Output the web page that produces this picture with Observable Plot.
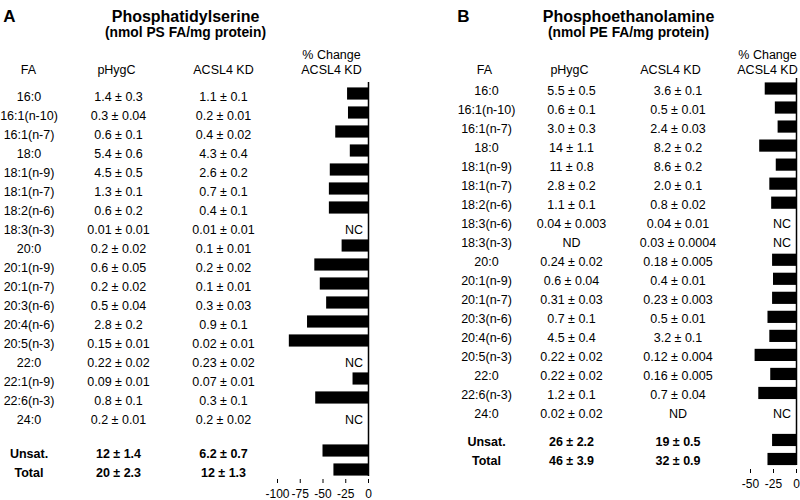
<!DOCTYPE html>
<html><head><meta charset="utf-8">
<script src="https://cdn.jsdelivr.net/npm/d3@7"></script>
<script src="https://cdn.jsdelivr.net/npm/@observablehq/plot@0.6"></script>
<style>
html,body{margin:0;padding:0;background:#fff;}
#chart{position:relative;width:800px;height:500px;overflow:hidden;background:#fff;}
#chart svg{position:absolute;top:0;}
</style></head><body><div id="chart"></div>
<script>
// ---------- Panel A: Phosphatidylserine ----------
const faA = ["16:0","16:1(n-10)","16:1(n-7)","18:0","18:1(n-9)","18:1(n-7)","18:2(n-6)","18:3(n-3)","20:0","20:1(n-9)","20:1(n-7)","20:3(n-6)","20:4(n-6)","20:5(n-3)","22:0","22:1(n-9)","22:6(n-3)","24:0","Unsat.","Total"];
const ctrlA = ["1.4 ± 0.3","0.3 ± 0.04","0.6 ± 0.1","5.4 ± 0.6","4.5 ± 0.5","1.3 ± 0.1","0.6 ± 0.2","0.01 ± 0.01","0.2 ± 0.02","0.6 ± 0.05","0.2 ± 0.02","0.5 ± 0.04","2.8 ± 0.2","0.15 ± 0.01","0.22 ± 0.02","0.09 ± 0.01","0.8 ± 0.1","0.2 ± 0.01","12 ± 1.4","20 ± 2.3"];
const kdA = ["1.1 ± 0.1","0.2 ± 0.01","0.4 ± 0.02","4.3 ± 0.4","2.6 ± 0.2","0.7 ± 0.1","0.4 ± 0.1","0.01 ± 0.01","0.1 ± 0.01","0.2 ± 0.02","0.1 ± 0.01","0.3 ± 0.03","0.9 ± 0.1","0.02 ± 0.01","0.23 ± 0.02","0.07 ± 0.01","0.3 ± 0.1","0.2 ± 0.02","6.2 ± 0.7","12 ± 1.3"];
const changeA = [-23,-22,-36,-20,-42,-43,-43,null,-29,-59,-53,-46,-67,-87,null,-17,-58,null,-50,-38];
const ticksA = [-100,-75,-50,-25,0];

// ---------- Panel B: Phosphoethanolamine ----------
const faB = ["16:0","16:1(n-10)","16:1(n-7)","18:0","18:1(n-9)","18:1(n-7)","18:2(n-6)","18:3(n-6)","18:3(n-3)","20:0","20:1(n-9)","20:1(n-7)","20:3(n-6)","20:4(n-6)","20:5(n-3)","22:0","22:6(n-3)","24:0","Unsat.","Total"];
const ctrlB = ["5.5 ± 0.5","0.6 ± 0.1","3.0 ± 0.3","14 ± 1.1","11 ± 0.8","2.8 ± 0.2","1.1 ± 0.1","0.04 ± 0.003","ND","0.24 ± 0.02","0.6 ± 0.04","0.31 ± 0.03","0.7 ± 0.1","4.5 ± 0.4","0.22 ± 0.02","0.22 ± 0.02","1.2 ± 0.1","0.02 ± 0.02","26 ± 2.2","46 ± 3.9"];
const kdB = ["3.6 ± 0.1","0.5 ± 0.01","2.4 ± 0.03","8.2 ± 0.2","8.6 ± 0.2","2.0 ± 0.1","0.8 ± 0.02","0.04 ± 0.01","0.03 ± 0.0004","0.18 ± 0.005","0.4 ± 0.01","0.23 ± 0.003","0.5 ± 0.01","3.2 ± 0.1","0.12 ± 0.004","0.16 ± 0.005","0.7 ± 0.04","ND","19 ± 0.5","32 ± 0.9"];
const changeB = [-34,-23,-20,-40,-22,-29,-27,null,null,-26,-25,-26,-31,-29,-45,-28,-41,null,-26,-31];
const ticksB = [-50,-25,0];

const headers = ["FA","pHygC","ACSL4 KD","% Change","ACSL4 KD"];
const FONT = "'Liberation Sans', Arial, Helvetica, sans-serif";

function panel(cfg) {
  const n = cfg.fa.length;
  const rows = cfg.fa.map((fa, i) => ({
    fa, ctrl: cfg.ctrl[i], kd: cfg.kd[i], change: cfg.change[i],
    total: i >= n - 2,
    slot: i < n - 2 ? i : i + cfg.gap
  }));
  const L = cfg.marginLeft, T = cfg.marginTop;
  const at = (px, py) => ({frameAnchor: "top-left", textAnchor: "middle", dx: px - L, dy: py - T});
  const col = (px) => ({frameAnchor: "left", textAnchor: "middle", dx: px - L, dy: cfg.textDy});
  const body = rows.filter(d => !d.total), tot = rows.filter(d => d.total);
  const textRows = (data, weight) => [
    Plot.text(data, {y: "slot", text: "fa", ...col(cfg.faX), fontWeight: weight}),
    Plot.text(data, {y: "slot", text: "ctrl", ...col(cfg.ctrlX), fontWeight: weight}),
    Plot.text(data, {y: "slot", text: "kd", ...col(cfg.kdX), fontWeight: weight})
  ];
  return Plot.plot({
    width: 400, height: 500,
    marginLeft: L, marginRight: cfg.marginRight, marginTop: T, marginBottom: cfg.marginBottom,
    style: {fontFamily: FONT, fontSize: "12.5px", background: "white", color: "black", overflow: "visible"},
    x: {domain: cfg.xDomain, label: null},
    y: {domain: [0, n - 1 + cfg.gap], range: [cfg.firstY, cfg.lastY], axis: null},
    marks: [
      Plot.text([cfg.letter], {...at(cfg.letterX, 9), fontSize: 17, fontWeight: "bold"}),
      Plot.text([cfg.title], {...at(cfg.titleX, 10), fontSize: 16, fontWeight: "bold"}),
      Plot.text([cfg.subtitle], {...at(cfg.titleX, 27), fontSize: 13.8, fontWeight: "bold"}),
      Plot.text([headers[0]], at(cfg.hFA, 65)),
      Plot.text([headers[1]], at(cfg.hCtrl, 65)),
      Plot.text([headers[2]], at(cfg.hKD, 65)),
      Plot.text([headers[3]], at(cfg.hChg, 50)),
      Plot.text([headers[4]], at(cfg.hChg, 65)),
      ...textRows(body, "normal"),
      ...textRows(tot, "bold"),
      Plot.rect(rows.filter(d => d.change != null), {
        x1: 0, x2: "change",
        y1: d => d.slot - 0.32, y2: d => d.slot + 0.32,
        fill: "black", dy: cfg.barDy
      }),
      Plot.text(rows.filter(d => d.change == null), {
        y: "slot", text: () => "NC", frameAnchor: "right", textAnchor: "end", dx: -5.5, dy: cfg.textDy
      }),
      Plot.ruleX([0], {stroke: "black", strokeWidth: 1.5, insetBottom: cfg.ruleInset}),
      Plot.axisX({ticks: cfg.ticks, tickFormat: d => String(d), tickSize: -4, tickPadding: 10,
        fontSize: 12, line: true, stroke: "black", label: null})
    ]
  });
}

const svgA = panel({
  letter: "A", title: "Phosphatidylserine", subtitle: "(nmol PS FA/mg protein)",
  fa: faA, ctrl: ctrlA, kd: kdA, change: changeA, ticks: ticksA, xDomain: [-100, 0],
  marginLeft: 277, marginRight: 32, marginTop: 82, marginBottom: 17, ruleInset: 7,
  firstY: 96, lastY: 472, gap: 0.79, textDy: 0.5, barDy: -2.5,
  faX: 28.5, ctrlX: 118, kdX: 223, hFA: 28, hCtrl: 116, hKD: 223, hChg: 331,
  titleX: 185, letterX: 9
});
const svgB = panel({
  letter: "B", title: "Phosphoethanolamine", subtitle: "(nmol PE FA/mg protein)",
  fa: faB, ctrl: ctrlB, kd: kdB, change: changeB, ticks: ticksB, xDomain: [-50, 0],
  marginLeft: 350, marginRight: 4, marginTop: 78, marginBottom: 27, ruleInset: 8,
  firstY: 89.5, lastY: 460, gap: 0.47, textDy: 0.5, barDy: -1,
  faX: 86, ctrlX: 171, kdX: 277.5, hFA: 84, hCtrl: 169, hKD: 270, hChg: 367,
  titleX: 228, letterX: 63
});
svgA.style.left = "0px";
svgB.style.left = "400px";
const chart = document.getElementById("chart");
chart.appendChild(svgA);
chart.appendChild(svgB);
</script></body></html>
